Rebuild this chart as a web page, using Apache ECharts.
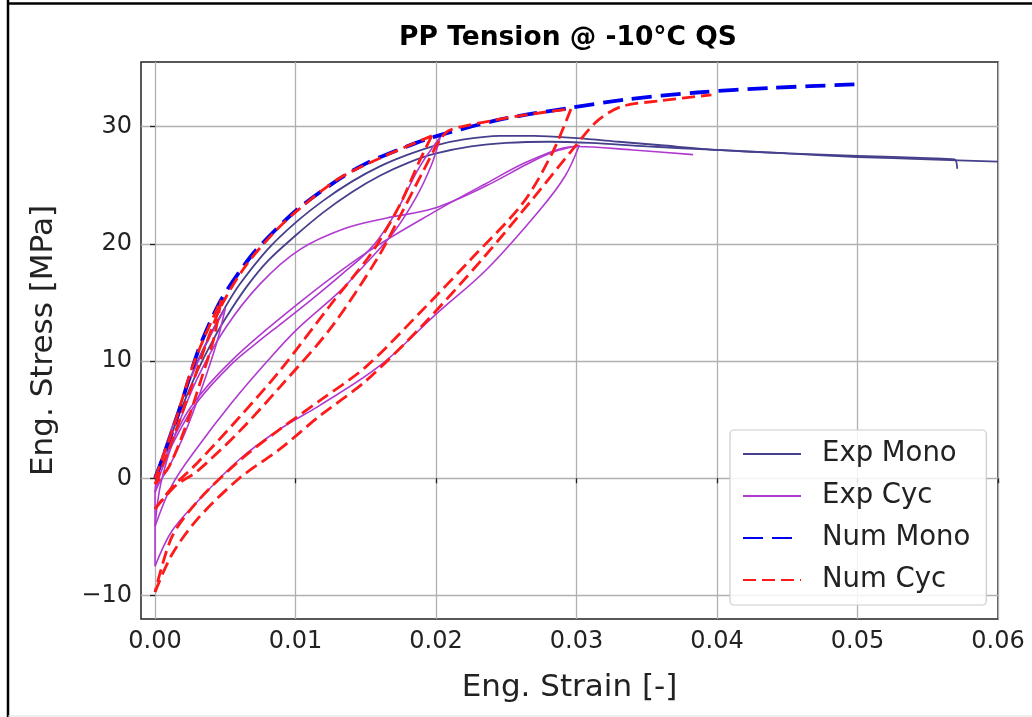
<!DOCTYPE html>
<html>
<head>
<meta charset="utf-8">
<script src="https://cdn.jsdelivr.net/npm/echarts@6/dist/echarts.min.js"></script>
<style>
html,body{margin:0;padding:0;background:#fff;}
#chart{width:1032px;height:717px;}
</style>
</head>
<body>
<div id="chart"></div>
<script>
// ---- data (strain [-], stress [MPa]) ----
const xTicks = [0, 0.01, 0.02, 0.03, 0.04, 0.05, 0.06];
const yTicks = [-10, 0, 10, 20, 30];

// Experimental monotonic tests
const expMono1 = [[0,0],[0.001,3.6],[0.002,7.0],[0.003,9.9],[0.004,12.4],[0.005,14.6],[0.006,16.5],[0.008,19.5],[0.01,21.8],[0.012,23.7],[0.014,25.3],[0.016,26.6],[0.018,27.6],[0.02,28.4],[0.022,28.9],[0.0245,29.2],[0.027,29.2],[0.03,29.0],[0.033,28.7],[0.036,28.4],[0.04,28.0],[0.045,27.7],[0.05,27.4],[0.055,27.2],[0.06,27.0]];
const expMono2 = [[0,0],[0.001,3.2],[0.002,6.3],[0.003,9.1],[0.004,11.5],[0.005,13.6],[0.0065,16.3],[0.008,18.5],[0.01,20.7],[0.012,22.7],[0.014,24.4],[0.016,25.8],[0.018,26.9],[0.02,27.7],[0.0225,28.3],[0.025,28.6],[0.028,28.7],[0.031,28.6],[0.035,28.3],[0.04,28.0],[0.045,27.7],[0.05,27.5],[0.055,27.3],[0.0569,27.2],[0.0571,26.4]];

// Experimental cyclic test (segments)
const expCycLoad    = [[0,0],[0.001,3.6],[0.002,6.9],[0.003,9.8],[0.004,12.3],[0.005,14.5]];
const expCycUnload1 = [[0.005,14.5],[0.0044,11.6],[0.0033,7.6],[0.0021,3.8],[0.001,1.0],[0.0003,-0.4],[0,-1.2]];
const expCycReload1 = [[0,-1.2],[0.0005,0.8],[0.0015,3.5],[0.003,6.5],[0.0055,9.8],[0.0075,11.8],[0.0091,13.3],[0.0112,15.3],[0.0132,17.3],[0.0155,19.8],[0.0172,22.8],[0.0188,26.5],[0.0203,29.1]];
const expCycUnload2 = [[0.0203,29.1],[0.0197,26.8],[0.0186,24.0],[0.017,21.0],[0.015,18.3],[0.0132,16.0],[0.0101,12.7],[0.008,10],[0.0055,6.5],[0.003,2.6],[0.0012,-0.6],[0,-4.1]];
const expCycReload2 = [[0,-4.1],[0.0004,-0.5],[0.0015,4],[0.003,8.5],[0.005,12.8],[0.0075,16.6],[0.0103,19.5],[0.0135,21.3],[0.0165,22.2],[0.0198,23.0],[0.0235,24.9],[0.0265,26.8],[0.0283,27.8],[0.0302,28.4]];
const expCycUnload3 = [[0.0302,28.4],[0.0292,25.8],[0.0274,22.9],[0.0236,17.8],[0.0201,14.1],[0.016,9.6],[0.0117,6.2],[0.0089,4.2],[0.006,1.6],[0.003,-2],[0.0012,-4.5],[0,-7.5]];
const expCycReload3 = [[0,-7.5],[0,-1.1],[0.0008,2],[0.0025,6],[0.0055,10.1],[0.0103,15],[0.015,19.2],[0.02,22.8],[0.0235,25.1],[0.0267,27.1],[0.03,28.3],[0.034,28.0],[0.0383,27.6]];

// Numerical monotonic
const numMono = [[0,0],[0.0013,4.2],[0.0026,9.2],[0.0033,11.6],[0.0046,15.0],[0.006,17.6],[0.0073,19.6],[0.0101,22.9],[0.0132,25.6],[0.0151,26.9],[0.0175,28.1],[0.0198,29.1],[0.0246,30.6],[0.0296,31.6],[0.0335,32.3],[0.0386,32.9],[0.044,33.3],[0.05,33.6]];

// Numerical cyclic (segments)
const numCycLoad    = [[0,0],[0.0013,4.3],[0.0026,9.3],[0.0035,12],[0.0047,15.2]];
const numCycUnload1 = [[0.0047,15.2],[0.0042,12],[0.0033,8.5],[0.0022,4.5],[0.001,1],[0,-0.5]];
const numCycReload1 = [[0,-0.5],[0.001,2.5],[0.0025,7.5],[0.0038,12],[0.0048,14.9],[0.0065,18.2],[0.0085,21],[0.0101,22.8],[0.013,25.5],[0.016,27.3],[0.0197,29.2]];
const numCycUnload2 = [[0.0197,29.2],[0.0188,27],[0.0175,23.5],[0.016,20.3],[0.0151,18.7],[0.0125,14.8],[0.0089,9.2],[0.006,5.2],[0.003,1.3],[0.0012,-0.8],[0,-2.6]];
const numCycReload2 = [[0,-2.6],[0.0015,-0.6],[0.003,0.6],[0.006,4.0],[0.0089,7.8],[0.0125,12.8],[0.0158,18.7],[0.0175,22.5],[0.019,26],[0.0203,28.9],[0.021,29.7],[0.024,30.5],[0.027,31.1],[0.0296,31.5]];
const numCycUnload3 = [[0.0296,31.5],[0.0283,27.8],[0.0262,23.5],[0.0225,18.7],[0.019,14.3],[0.015,9.5],[0.0117,6.6],[0.0089,4.2],[0.006,1.5],[0.003,-2],[0.0012,-5],[0,-9.7]];
const numCycReload3 = [[0,-9.7],[0.0012,-6.5],[0.003,-3.5],[0.006,0],[0.0089,2.5],[0.0117,5.3],[0.015,8.3],[0.019,13],[0.0233,18.7],[0.027,24],[0.0299,28.3],[0.0315,30.5],[0.0332,31.7],[0.036,32.2],[0.0396,32.7]];

const C_EXPMONO = '#453f8c';
const C_EXPCYC = '#b03ad0';
const C_NUMMONO = '#0000f0';
const C_NUMCYC = '#ff1a1a';

function fmtNum(v, d){ const s = Math.abs(v).toFixed(d); return (v < 0 ? '\u2212' : '') + s; }

const chart = echarts.init(document.getElementById('chart'), null, {renderer:'canvas'});

function mk(name, data, lineStyle, smooth){
  return {type:'line', name:name, data:data, symbol:'none', smooth:smooth, animation:false,
    lineStyle:lineStyle, itemStyle:{color:lineStyle.color}, emphasis:{disabled:true}};
}
const sExpMono = {color:C_EXPMONO, width:1.8};
const sExpCyc = {color:C_EXPCYC, width:1.6};
const sNumMono = {color:C_NUMMONO, width:3.8, type:[20,9]};
const sNumCyc = {color:C_NUMCYC, width:2.8, type:[13,6]};

const series = [
  mk('Exp Mono', expMono1, sExpMono, 0.3),
  mk('Exp Mono', expMono2, sExpMono, 0.3),
  mk('Exp Cyc', expCycLoad, sExpCyc, 0.35),
  mk('Exp Cyc', expCycUnload1, sExpCyc, 0.35),
  mk('Exp Cyc', expCycReload1, sExpCyc, 0.35),
  mk('Exp Cyc', expCycUnload2, sExpCyc, 0.35),
  mk('Exp Cyc', expCycReload2, sExpCyc, 0.35),
  mk('Exp Cyc', expCycUnload3, sExpCyc, 0.35),
  mk('Exp Cyc', expCycReload3, sExpCyc, 0.35),
  mk('Num Mono', numMono, sNumMono, 0.3),
  mk('Num Cyc', numCycLoad, sNumCyc, 0.3),
  mk('Num Cyc', numCycUnload1, sNumCyc, 0.3),
  mk('Num Cyc', numCycReload1, sNumCyc, 0.3),
  mk('Num Cyc', numCycUnload2, sNumCyc, 0.3),
  mk('Num Cyc', numCycReload2, sNumCyc, 0.3),
  mk('Num Cyc', numCycUnload3, sNumCyc, 0.3),
  mk('Num Cyc', numCycReload3, sNumCyc, 0.3)
];

chart.setOption({
  backgroundColor:'#fff',
  animation:false,
  title:{text:'PP Tension @ -10°C QS', left:563, top:20, textAlign:'center',
    textStyle:{fontFamily:'DejaVu Sans', fontWeight:'bold', fontSize:26.5, color:'#000'}},
  grid:{left:141, right:34, top:62, bottom:98, show:true, borderColor:'#222', borderWidth:1.5, backgroundColor:'#fff'},
  legend:{orient:'vertical', left:730, top:430, width:255,
    backgroundColor:'rgba(255,255,255,0.85)', borderColor:'#cccccc', borderWidth:1.2, borderRadius:4,
    padding:[10,16,11,12], itemWidth:58, itemHeight:14, itemGap:14,
    itemStyle:{opacity:0, borderWidth:0},
    textStyle:{fontFamily:'DejaVu Sans', fontSize:27.5, color:'#222', padding:[0,0,0,16]},
    data:['Exp Mono','Exp Cyc','Num Mono','Num Cyc']},
  xAxis:{type:'value', min:-0.001, max:0.06,
    name:'Eng. Strain [-]', nameLocation:'middle', nameGap:53,
    nameTextStyle:{fontFamily:'DejaVu Sans', fontSize:31, color:'#222'},
    axisLine:{show:false},
    axisTick:{show:true, length:5, lineStyle:{color:'#222', width:1.3}, customValues:xTicks},
    axisLabel:{customValues:xTicks, margin:11, fontFamily:'DejaVu Sans', fontSize:24, color:'#222', formatter:v=>fmtNum(v,2)},
    splitLine:{show:true, lineStyle:{color:'#b0b0b0', width:1.3}}},
  yAxis:{type:'value', min:-12, max:35.5,
    name:'Eng. Stress [MPa]', nameLocation:'middle', nameGap:82, nameRotate:90,
    nameTextStyle:{fontFamily:'DejaVu Sans', fontSize:31, color:'#222'},
    axisLine:{show:false},
    axisTick:{show:true, length:5, lineStyle:{color:'#222', width:1.3}, customValues:yTicks},
    axisLabel:{customValues:yTicks, margin:9, fontFamily:'DejaVu Sans', fontSize:24, color:'#222', formatter:v=>fmtNum(v,0)},
    splitLine:{show:true, lineStyle:{color:'#b0b0b0', width:1.3}}},
  series:series,
  graphic:[
    {type:'line', shape:{x1:8, y1:0, x2:8, y2:717}, style:{stroke:'#000', lineWidth:2.5}, silent:true},
    {type:'line', shape:{x1:8, y1:3.5, x2:1032, y2:3.5}, style:{stroke:'#000', lineWidth:2.5}, silent:true},
    {type:'line', shape:{x1:8, y1:716, x2:1032, y2:716}, style:{stroke:'#dddddd', lineWidth:1}, silent:true}
  ]
});
</script>
</body>
</html>
